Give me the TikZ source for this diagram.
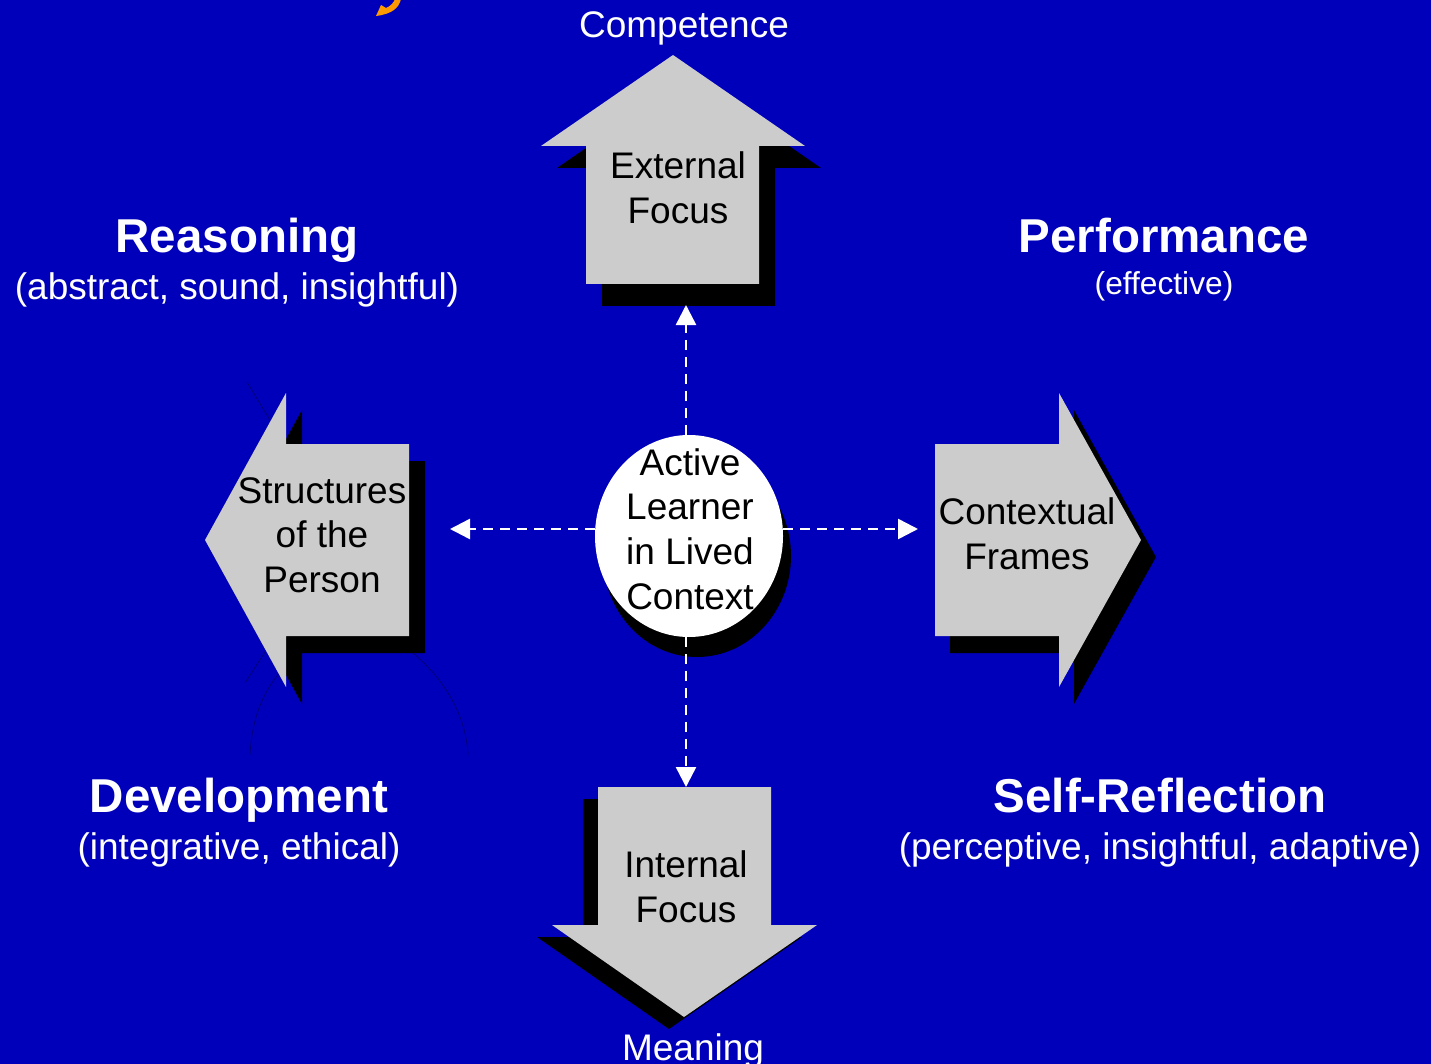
\documentclass[tikz,border=0pt]{standalone}
\usepackage{fontspec}
\setmainfont{Liberation Sans}
\usetikzlibrary{arrows.meta,shapes.geometric}
\definecolor{bg}{RGB}{0,0,187}
\definecolor{arrowgray}{RGB}{204,204,204}
\definecolor{titleorange}{RGB}{255,153,0}
\definecolor{faint}{RGB}{0,0,120}
\begin{document}
\begin{tikzpicture}[x=1pt,y=-1pt,
  lbl/.style={font=\fontsize{37}{44.7}\selectfont, align=center, text=black, inner sep=0pt},
  wlbl/.style={font=\fontsize{37}{44.7}\selectfont, text=white, inner sep=0pt, anchor=base},
  headtxt/.style={font=\fontsize{47.5}{52}\selectfont\bfseries, text=white, inner sep=0pt, anchor=base},
  subtxt/.style={font=\fontsize{37}{44}\selectfont, text=white, inner sep=0pt, anchor=base},
  smalltxt/.style={font=\fontsize{31.7}{38}\selectfont, text=white, inner sep=0pt, anchor=base},
  blockarrow/.style={fill=arrowgray},
  shade/.style={fill=black},
  faintline/.style={draw=faint, line width=0.8pt},
  link/.style={white, line width=2.5pt, dash pattern=on 10pt off 7pt, -{Triangle[length=20pt,width=20pt]}}]
\fill[bg] (0,0) rectangle (1431,1064);
\useasboundingbox (0,0) rectangle (1431,1064);

% orange fragment of title glyph
\fill[titleorange] (376,16) -- (381,5) -- (386,8) .. controls (391,6) and (394,2) .. (395,-1) -- (401,-1) .. controls (399,8) and (392,14) .. (376,16) -- cycle;

% faint lines
\draw[faintline] (247,382) -- (270,420);
\draw[faintline] (245,683) -- (265,652);
\draw[faintline] (250,755) .. controls (252,712) and (268,682) .. (290,662);
\draw[faintline] (413,653) .. controls (445,680) and (466,715) .. (468,755);

% up arrow
\fill[shade] (689,77) -- (821,168) -- (775,168) -- (775,306) -- (602,306) -- (602,168) -- (557,168) -- cycle;
\fill[blockarrow] (673,55) -- (805,146) -- (759,146) -- (759,284) -- (586,284) -- (586,146) -- (541,146) -- cycle;
% left arrow
\fill[shade] (221,557) -- (302,410) -- (302,461) -- (425,461) -- (425,653) -- (302,653) -- (302,704) -- cycle;
\fill[blockarrow] (205,540) -- (286,393) -- (286,444) -- (409,444) -- (409,636) -- (286,636) -- (286,687) -- cycle;
% right arrow
\fill[shade] (950,461) -- (1074,461) -- (1074,410) -- (1156,557) -- (1074,704) -- (1074,653) -- (950,653) -- cycle;
\fill[blockarrow] (935,444) -- (1059,444) -- (1059,393) -- (1141,540) -- (1059,687) -- (1059,636) -- (935,636) -- cycle;
% down arrow
\fill[shade] (583,799) -- (756,799) -- (756,937) -- (802,937) -- (669,1029) -- (537,937) -- (583,937) -- cycle;
\fill[blockarrow] (598,787) -- (771,787) -- (771,925) -- (817,925) -- (684,1017) -- (552,925) -- (598,925) -- cycle;

% central ellipse
\fill[black] (697,556) ellipse [x radius=94pt, y radius=101pt];
\node[ellipse, fill=white, minimum width=188pt, minimum height=202pt, inner sep=0pt] (circ) at (689,536) {};
\node[lbl] (circtxt) at (690,529) {Active\\Learner\\in Lived\\Context};

% arrow labels
\node[lbl] (ext) at (678,188) {External\\Focus};
\node[lbl] (struct) at (322,535) {Structures\\of the\\Person};
\node[lbl] (ctx) at (1027,534) {Contextual\\Frames};
\node[lbl] (int) at (686,887) {Internal\\Focus};

% dashed links
\coordinate (tipN) at (686,305);
\coordinate (tipS) at (686,787);
\coordinate (tipW) at (450,529);
\coordinate (tipE) at (918,529);
\draw[link] (circ.north -| tipN) -- (tipN);
\draw[link] (circ.south -| tipS) -- (tipS);
\draw[link] (circ.west |- tipW) -- (tipW);
\draw[link] (circ.east |- tipE) -- (tipE);

% outer labels
\node[wlbl] (comp) at (684,38) {Competence};
\node[wlbl] (mean) at (693,1060) {Meaning};
\node[headtxt] (reas) at (237,253) {Reasoning};
\node[subtxt] (reassub) at (237,300) {(abstract, sound, insightful)};
\node[headtxt] (perf) at (1164,253) {Performance};
\node[smalltxt] (perfsub) at (1164,295) {(effective)};
\node[headtxt] (dev) at (239,812) {Development};
\node[subtxt] (devsub) at (239,859) {(integrative, ethical)};
\node[headtxt] (self) at (1160,812) {Self-Reflection};
\node[subtxt] (selfsub) at (1160,859) {(perceptive, insightful, adaptive)};
\end{tikzpicture}
\end{document}
